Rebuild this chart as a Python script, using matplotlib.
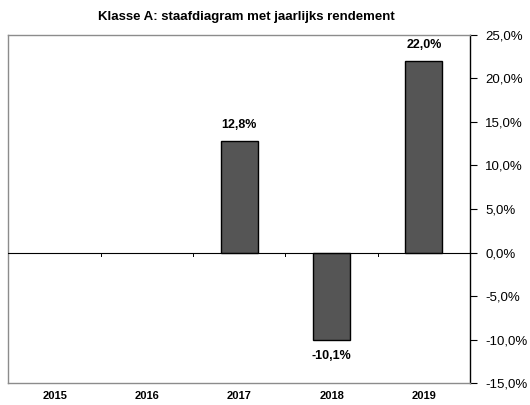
import matplotlib.pyplot as plt
import numpy as np

# Data
years = ['2015', '2016', '2017', '2018', '2019']
returns = [np.nan, np.nan, 12.8, -10.1, 22.0]

plt.rcParams['font.family'] = ['Liberation Sans', 'DejaVu Sans']

fig = plt.figure(figsize=(5.3, 4.05), dpi=100)
ax = fig.add_axes([0.016, 0.054, 0.871, 0.860])

x = np.arange(len(years))
ax.bar(x, returns, width=0.40, color='#555555', edgecolor='black', linewidth=1.0, zorder=3)

# value labels
for xi, v in zip(x, returns):
    if np.isnan(v):
        continue
    label = f'{v:.1f}%'.replace('.', ',')
    if v >= 0:
        ax.text(xi, v + 1.1, label, ha='center', va='bottom', fontsize=9, fontweight='bold')
    else:
        ax.text(xi, v - 1.1, label, ha='center', va='top', fontsize=9, fontweight='bold')

ax.set_xlim(-0.5, len(years) - 0.5)
ax.set_ylim(-15, 25)

# zero line with small ticks between categories
ax.axhline(0, color='black', linewidth=0.8, zorder=4)
for b in np.arange(0.5, len(years) - 0.5, 1.0):
    ax.plot([b, b], [0, -0.4], color='black', linewidth=0.7, zorder=4)

# y axis on the right
ax.yaxis.tick_right()
ax.set_yticks(np.arange(-15, 26, 5))
ax.set_yticklabels([f'{t:.1f}%'.replace('.', ',') for t in np.arange(-15, 26, 5)], fontsize=9.5)
ax.tick_params(axis='y', direction='out', length=5, width=0.8, pad=6)

ax.set_xticks(x)
ax.set_xticklabels(years, fontsize=8, fontweight='bold')
ax.tick_params(axis='x', length=0, pad=6)

for side in ['left', 'top', 'bottom']:
    ax.spines[side].set_color('#8c8c8c')
    ax.spines[side].set_linewidth(1.0)
ax.spines['right'].set_color('black')
ax.spines['right'].set_linewidth(1.0)

fig.text(0.465, 0.957, 'Klasse A: staafdiagram met jaarlijks rendement',
         ha='center', va='center', fontsize=9.5, fontweight='bold')

fig.savefig('out.png', dpi=100, facecolor='white')
